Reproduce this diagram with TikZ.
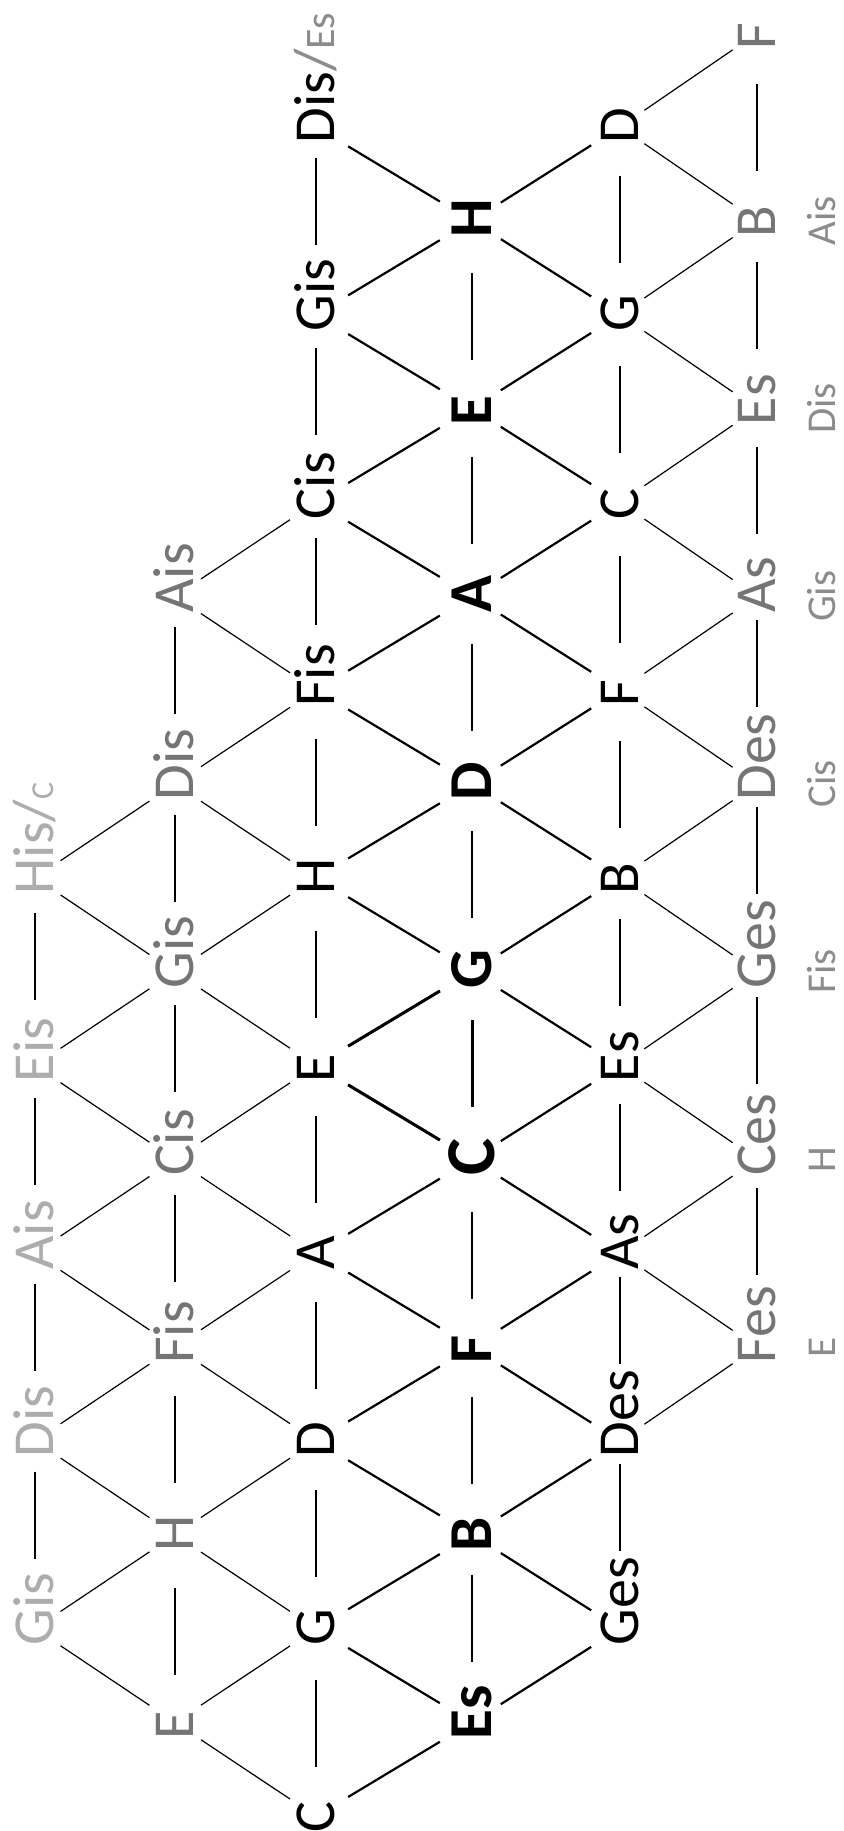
\documentclass[tikz,border=0pt]{standalone}
\usepackage{fontspec}
\setmainfont{Carlito}
\usetikzlibrary{calc}

\definecolor{greyA}{HTML}{ADADAD}
\definecolor{greyB}{HTML}{757575}
\definecolor{greyC}{HTML}{8C8C8C}

\tikzset{
  ton/.style={rotate=90, anchor=west, inner sep=0pt, text depth=0pt, text height=18.7pt, font=\fontsize{29}{30}\selectfont},
  tonbold/.style={ton, text height=19.6pt, font=\fontsize{30.5}{32}\selectfont\bfseries},
  tonC/.style={ton, text height=22.5pt, font=\fontsize{35}{36}\selectfont\bfseries},
  enh/.style={rotate=90, inner sep=0pt, text depth=0pt, text height=13.2pt, text=greyC, font=\fontsize{20.5}{22}\selectfont},
  thinline/.style={line width=0.6pt},
  midline/.style={line width=0.75pt},
  thickline/.style={line width=1.1pt},
  triad/.style={line width=1.5pt},
}

% vertical link: centred in the gap between two notes of one row
\newcommand{\vlink}[3][thinline]{\draw[#1] ($(#2.west)!.5!(#3.east)+(0,-43.5)$) -- +(0,87);}
% diagonal link: fixed length, centred between the two lattice points
\newcommand{\dlink}[3][thinline]{\draw[#1] ($(#2.west)!.5!(#3.west)!26.75pt!(#2.west)+(0,-17)$) -- ($(#2.west)!.5!(#3.west)!26.75pt!(#3.west)+(0,-17)$);}

\begin{document}
\begin{tikzpicture}[x=0.5pt, y=-0.5pt]
\useasboundingbox (0,0) rectangle (843,1831);

% notes
\node[ton, text=greyA] (c0m9) at (35,{33.15+93.85*9+17}) {His/{\fontsize{16}{17}\selectfont C}};
\foreach \n/\lbl in {11/Eis, 13/Ais, 15/Dis, 17/Gis}
  \node[ton, text=greyA] (c0m\n) at (35,{33.15+93.85*\n+17}) {\lbl};
\foreach \n/\lbl in {6/Ais, 8/Dis, 10/Gis, 12/Cis, 14/Fis, 16/H, 18/E}
  \node[ton, text=greyB] (c1m\n) at (175,{33.15+93.85*\n+17}) {\lbl};
\node[ton] (c2m1) at (316,{33.15+93.85*1+17}) {Dis{\color{greyC}/\fontsize{21}{22}\selectfont Es}};
\foreach \n/\lbl in {3/Gis, 5/Cis, 7/Fis, 9/H, 11/E, 13/A, 15/D, 17/G, 19/C}
  \node[ton] (c2m\n) at (316,{33.15+93.85*\n+17}) {\lbl};
\foreach \n/\lbl in {2/H, 4/E, 6/A, 8/D, 10/G, 14/F, 16/B, 18/Es}
  \node[tonbold] (c3m\n) at (472,{33.15+93.85*\n+17}) {\lbl};
\node[tonC] (c3m12) at (472,{33.15+93.85*12+17}) {C};
\foreach \n/\lbl in {1/D, 3/G, 5/C, 7/F, 9/B, 11/Es, 13/As, 15/Des, 17/Ges}
  \node[ton] (c4m\n) at (620,{33.15+93.85*\n+17}) {\lbl};
\foreach \n/\lbl in {0/F, 2/B, 4/Es, 6/As, 8/Des, 10/Ges, 12/Ces, 14/Fes}
  \node[ton, text=greyB] (c5m\n) at (757,{33.15+93.85*\n+17}) {\lbl};
\foreach \n/\lbl in {2/Ais, 4/Dis, 6/Gis, 8/Cis, 10/Fis, 12/H, 14/E}
  \node[enh] (c6m\n) at (822,{33.15+93.85*\n}) {\lbl};

% thirds along each row
\foreach \n in {9,11,13,15} {\pgfmathtruncatemacro\nb{\n+2} \vlink{c0m\n}{c0m\nb}}
\foreach \n in {6,8,...,16} {\pgfmathtruncatemacro\nb{\n+2} \vlink{c1m\n}{c1m\nb}}
\foreach \n in {1,3,...,17} {\pgfmathtruncatemacro\nb{\n+2} \vlink[thickline]{c2m\n}{c2m\nb}}
\foreach \n in {2,4,...,16} {\pgfmathtruncatemacro\nb{\n+2} \vlink[thickline]{c3m\n}{c3m\nb}}
\foreach \n in {1,3,...,15} {\pgfmathtruncatemacro\nb{\n+2} \vlink{c4m\n}{c4m\nb}}
\foreach \n in {0,2,...,12} {\pgfmathtruncatemacro\nb{\n+2} \vlink[midline]{c5m\n}{c5m\nb}}

% links between rows
\foreach \n in {9,11,...,17} {
  \pgfmathtruncatemacro\na{\n-1} \pgfmathtruncatemacro\nb{\n+1}
  \dlink{c0m\n}{c1m\na} \dlink{c0m\n}{c1m\nb}}
\foreach \n in {6,8,...,18} {
  \pgfmathtruncatemacro\na{\n-1} \pgfmathtruncatemacro\nb{\n+1}
  \dlink{c1m\n}{c2m\na} \dlink{c1m\n}{c2m\nb}}
\foreach \n in {2,4,...,18} {
  \pgfmathtruncatemacro\na{\n-1} \pgfmathtruncatemacro\nb{\n+1}
  \dlink[thickline]{c3m\n}{c2m\na} \dlink[thickline]{c3m\n}{c2m\nb}
  \dlink[thickline]{c3m\n}{c4m\na}}
\foreach \n in {2,4,...,16} {\pgfmathtruncatemacro\nb{\n+1} \dlink[thickline]{c3m\n}{c4m\nb}}
\foreach \n in {0,2,...,14} {\pgfmathtruncatemacro\nb{\n+1} \dlink{c5m\n}{c4m\nb}}
\foreach \n in {2,4,...,14} {\pgfmathtruncatemacro\na{\n-1} \dlink{c5m\n}{c4m\na}}

% C major triad
\dlink[triad]{c2m11}{c3m12}
\dlink[triad]{c2m11}{c3m10}
\vlink[triad]{c3m10}{c3m12}
\end{tikzpicture}
\end{document}
